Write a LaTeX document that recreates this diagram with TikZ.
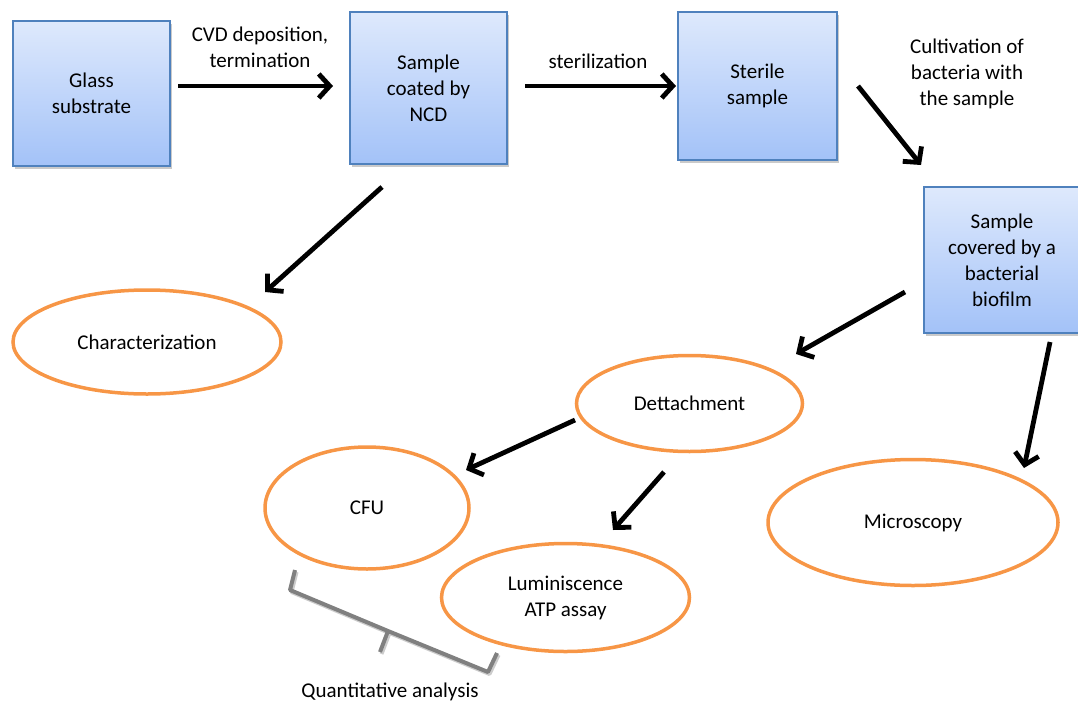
\documentclass[tikz,border=0pt]{standalone}
\usepackage{fontspec}
\setmainfont{Carlito}
\usetikzlibrary{arrows.meta,shadows,shapes.geometric}
\definecolor{boxtop}{RGB}{222,233,252}
\definecolor{boxbot}{RGB}{163,194,248}
\definecolor{boxline}{RGB}{79,129,189}
\definecolor{ellline}{RGB}{247,150,70}
\definecolor{bracegray}{RGB}{128,128,128}
\tikzset{
  stagebox/.style={rectangle, draw=boxline, line width=1.2pt, top color=boxtop, bottom color=boxbot,
    align=center, font=\fontsize{21}{26}\selectfont, inner sep=0pt,
    drop shadow={shadow xshift=2pt, shadow yshift=-3pt, opacity=0.35, fill=black!60}},
  evalell/.style={ellipse, draw=ellline, line width=3.5pt, fill=white, align=center,
    font=\fontsize{21}{26}\selectfont, inner sep=0pt},
  flow/.style={line width=4.8pt, -{Straight Barb[length=11pt,width=24pt]}, black},
  lbl/.style={align=center, font=\fontsize{21}{26}\selectfont},
}
\begin{document}
\begin{tikzpicture}[x=1pt,y=-1pt]
\useasboundingbox (0,0) rectangle (1078,704);
% boxes
\node[stagebox, minimum width=157pt, minimum height=145pt] (glass) at (91.5,93.5) {Glass\\substrate};
\node[stagebox, minimum width=157pt, minimum height=152pt] (ncd) at (428.5,88) {Sample\\coated by\\NCD};
\node[stagebox, minimum width=159pt, minimum height=148pt] (sterile) at (757.5,86) {Sterile\\sample};
\node[stagebox, minimum width=156pt, minimum height=146pt] (biofilm) at (1002,260) {Sample\\covered by a\\bacterial\\biofilm};
% ellipses
\node[evalell, minimum width=268pt, minimum height=104pt] (char) at (147,342) {Characterization};
\node[evalell, minimum width=226pt, minimum height=96pt] (detach) at (689.5,403.5) {Dettachment};
\node[evalell, minimum width=204pt, minimum height=122pt] (cfu) at (367,508) {CFU};
\node[evalell, minimum width=248pt, minimum height=108pt] (lumi) at (565.5,597.5) {Luminiscence\\ATP assay};
\node[evalell, minimum width=290pt, minimum height=126pt] (micro) at (913,522.5) {Microscopy};
% arrow endpoints
\coordinate (a1s) at (178,86);  \coordinate (a1e) at (333,86);
\coordinate (a2s) at (525,86);  \coordinate (a2e) at (676,86);
\coordinate (a3s) at (858,86);  \coordinate (a3e) at (921,165);
\coordinate (a4s) at (382,187); \coordinate (a4e) at (265,292);
\coordinate (a5s) at (905,292); \coordinate (a5e) at (796,354);
\coordinate (a6s) at (1050,342); \coordinate (a6e) at (1024,468);
\coordinate (a7s) at (575,420); \coordinate (a7e) at (466,470);
\coordinate (a8s) at (664,472); \coordinate (a8e) at (613,530);
\draw[flow] (a1s) -- (a1e);
\draw[flow] (a2s) -- (a2e);
\draw[flow] (a3s) -- (a3e);
\draw[flow] (a4s) -- (a4e);
\draw[flow] (a5s) -- (a5e);
\draw[flow] (a6s) -- (a6e);
\draw[flow] (a7s) -- (a7e);
\draw[flow] (a8s) -- (a8e);
% labels
\node[lbl] (l1) at (260,47) {CVD deposition,\\termination};
\node[lbl] (l2) at (598,61) {sterilization};
\node[lbl] (l3) at (967,74) {Cultivation of\\bacteria with\\the sample};
% brace
\coordinate (b1) at (295,570);
\coordinate (b2) at (290,590);
\coordinate (b3) at (388,631);
\coordinate (b4) at (380,652);
\coordinate (b5) at (488,672);
\coordinate (b6) at (497,653);
\draw[black!20, line width=4pt, line join=round, transform canvas={xshift=1.5pt,yshift=-2pt}] (b1) -- (b2) -- (b3) -- (b5) -- (b6) (b3) -- (b4);
\draw[bracegray, line width=4pt, line join=round] (b1) -- (b2) -- (b3) -- (b5) -- (b6) (b3) -- (b4);
\node[lbl] (qa) at (390,692) {Quantitative analysis};
\end{tikzpicture}
\end{document}
